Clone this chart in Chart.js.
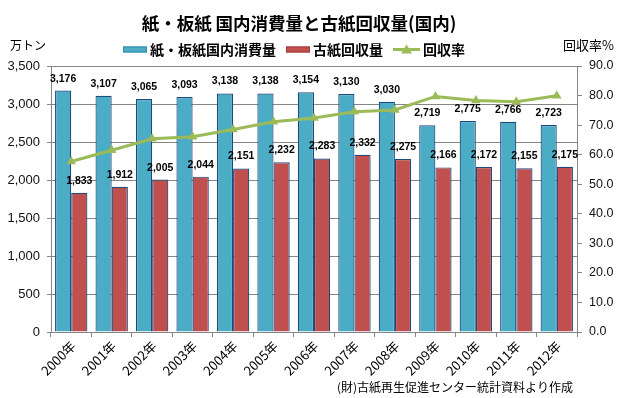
<!DOCTYPE html>
<html>
<head>
<meta charset="utf-8">
<script src="https://cdn.jsdelivr.net/npm/chart.js@4"></script>
<style>
  body { margin: 0; background: #fff; }
</style>
</head>
<body>
<canvas id="paperChart" width="618" height="398"></canvas>
<script>
const years = ['2000年', '2001年', '2002年', '2003年', '2004年', '2005年', '2006年',
  '2007年', '2008年', '2009年', '2010年', '2011年', '2012年'];
const consumption = [3176, 3107, 3065, 3093, 3138, 3138, 3154, 3130, 3030, 2719, 2775, 2766, 2723];
const recovered = [1833, 1912, 2005, 2044, 2151, 2232, 2283, 2332, 2275, 2166, 2172, 2155, 2175];
const recoveryRate = [57.7, 61.5, 65.4, 66.1, 68.5, 71.1, 72.4, 74.5, 75.1, 79.7, 78.3, 77.9, 79.9];

const BLUE = '#4BACC6';
const RED = '#C0504D';
const GREEN = '#9BBB59';
const EDGE = '#1F497D';
const GRID = '#868686';
const JP = '"Noto Sans CJK JP", sans-serif';

// title, legend, unit captions, source note and value labels
const decorations = {
  id: 'decorations',
  afterDatasetsDraw(chart) {
    const ctx = chart.ctx;
    ctx.save();

    // value labels over the bars
    ctx.font = 'bold 10.5px "Liberation Sans", sans-serif';
    ctx.fillStyle = '#000';
    ctx.textAlign = 'center';
    ctx.textBaseline = 'middle';
    [0, 1].forEach(i => {
      const meta = chart.getDatasetMeta(i);
      const values = chart.data.datasets[i].data;
      meta.data.forEach((bar, j) => {
        ctx.fillText(values[j].toLocaleString('en-US'), bar.x, bar.y - 12);
      });
    });

    // title
    ctx.font = 'bold 17.5px ' + JP;
    ctx.fillText('紙・板紙 国内消費量と古紙回収量(国内)', 299, 23);

    // legend
    ctx.textAlign = 'left';
    ctx.font = 'bold 14px ' + JP;
    let x = 123;
    const ly = 49.5;
    const swatch = (color) => {
      ctx.fillStyle = color;
      ctx.fillRect(x, ly - 3, 24, 6);
      ctx.strokeStyle = color === BLUE ? '#2E8CA8' : '#A03C3A';
      ctx.lineWidth = 1;
      ctx.strokeRect(x + 0.5, ly - 2.5, 23, 5);
      x += 27;
    };
    swatch(BLUE);
    ctx.fillStyle = '#000';
    ctx.fillText('紙・板紙国内消費量', x, ly);
    x += ctx.measureText('紙・板紙国内消費量').width + 10;
    swatch(RED);
    ctx.fillStyle = '#000';
    ctx.fillText('古紙回収量', x, ly);
    x += ctx.measureText('古紙回収量').width + 10;
    ctx.strokeStyle = GREEN;
    ctx.lineWidth = 3;
    ctx.beginPath();
    ctx.moveTo(x, ly);
    ctx.lineTo(x + 27, ly);
    ctx.stroke();
    ctx.fillStyle = GREEN;
    ctx.beginPath();
    ctx.moveTo(x + 13.5, ly - 5);
    ctx.lineTo(x + 19, ly + 4);
    ctx.lineTo(x + 8, ly + 4);
    ctx.closePath();
    ctx.fill();
    x += 30;
    ctx.fillStyle = '#000';
    ctx.fillText('回収率', x, ly);

    // axis captions
    ctx.font = '12px ' + JP;
    ctx.fillText('万トン', 10, 45);
    ctx.font = '13px ' + JP;
    ctx.fillText('回収率%', 563, 45);

    // source note
    ctx.font = '12px ' + JP;
    ctx.textAlign = 'right';
    ctx.fillText('(財)古紙再生促進センター統計資料より作成', 573, 387);

    ctx.restore();
  }
};

new Chart(document.getElementById('paperChart'), {
  type: 'bar',
  data: {
    labels: years,
    datasets: [
      {
        label: '紙・板紙国内消費量',
        data: consumption,
        backgroundColor: BLUE,
        borderColor: EDGE,
        borderWidth: 1.2,
        borderSkipped: 'bottom',
        yAxisID: 'y',
        order: 1,
        categoryPercentage: 0.8,
        barPercentage: 1.0
      },
      {
        label: '古紙回収量',
        data: recovered,
        backgroundColor: RED,
        borderColor: EDGE,
        borderWidth: 1.2,
        borderSkipped: 'bottom',
        yAxisID: 'y',
        order: 1,
        categoryPercentage: 0.8,
        barPercentage: 1.0
      },
      {
        type: 'line',
        label: '回収率',
        data: recoveryRate,
        borderColor: GREEN,
        backgroundColor: GREEN,
        borderWidth: 3,
        pointStyle: 'triangle',
        pointRadius: 5.5,
        pointBorderWidth: 0,
        tension: 0,
        yAxisID: 'y1',
        order: 0
      }
    ]
  },
  options: {
    responsive: false,
    animation: false,
    layout: { padding: { top: 66, right: 0, bottom: 0, left: 0 } },
    plugins: {
      legend: { display: false },
      title: { display: false },
      tooltip: { enabled: false }
    },
    scales: {
      x: {
        offset: true,
        grid: { drawOnChartArea: false, drawTicks: true, tickLength: 5, color: GRID },
        border: { color: GRID },
        ticks: {
          maxRotation: 45,
          minRotation: 45,
          color: '#000',
          font: { family: JP, size: 13 },
          padding: 1,
          labelOffset: 2
        },
        afterFit(scale) { scale.height = 66; }
      },
      y: {
        position: 'left',
        min: 0,
        max: 3500,
        grid: { color: GRID, tickLength: 4 },
        border: { color: GRID },
        ticks: {
          stepSize: 500,
          padding: 7,
          color: '#111',
          font: { family: '"Liberation Sans", sans-serif', size: 13 },
          callback: v => v.toLocaleString('en-US')
        },
        afterFit(scale) { scale.width = 51; }
      },
      y1: {
        position: 'right',
        min: 0,
        max: 90,
        grid: { drawOnChartArea: false, color: GRID, tickLength: 5 },
        border: { color: GRID },
        ticks: {
          stepSize: 10,
          padding: 7,
          color: '#111',
          font: { family: '"Liberation Sans", sans-serif', size: 12.5 },
          callback: v => v.toFixed(1)
        },
        afterFit(scale) { scale.width = 41; }
      }
    }
  },
  plugins: [decorations]
});
</script>
</body>
</html>
